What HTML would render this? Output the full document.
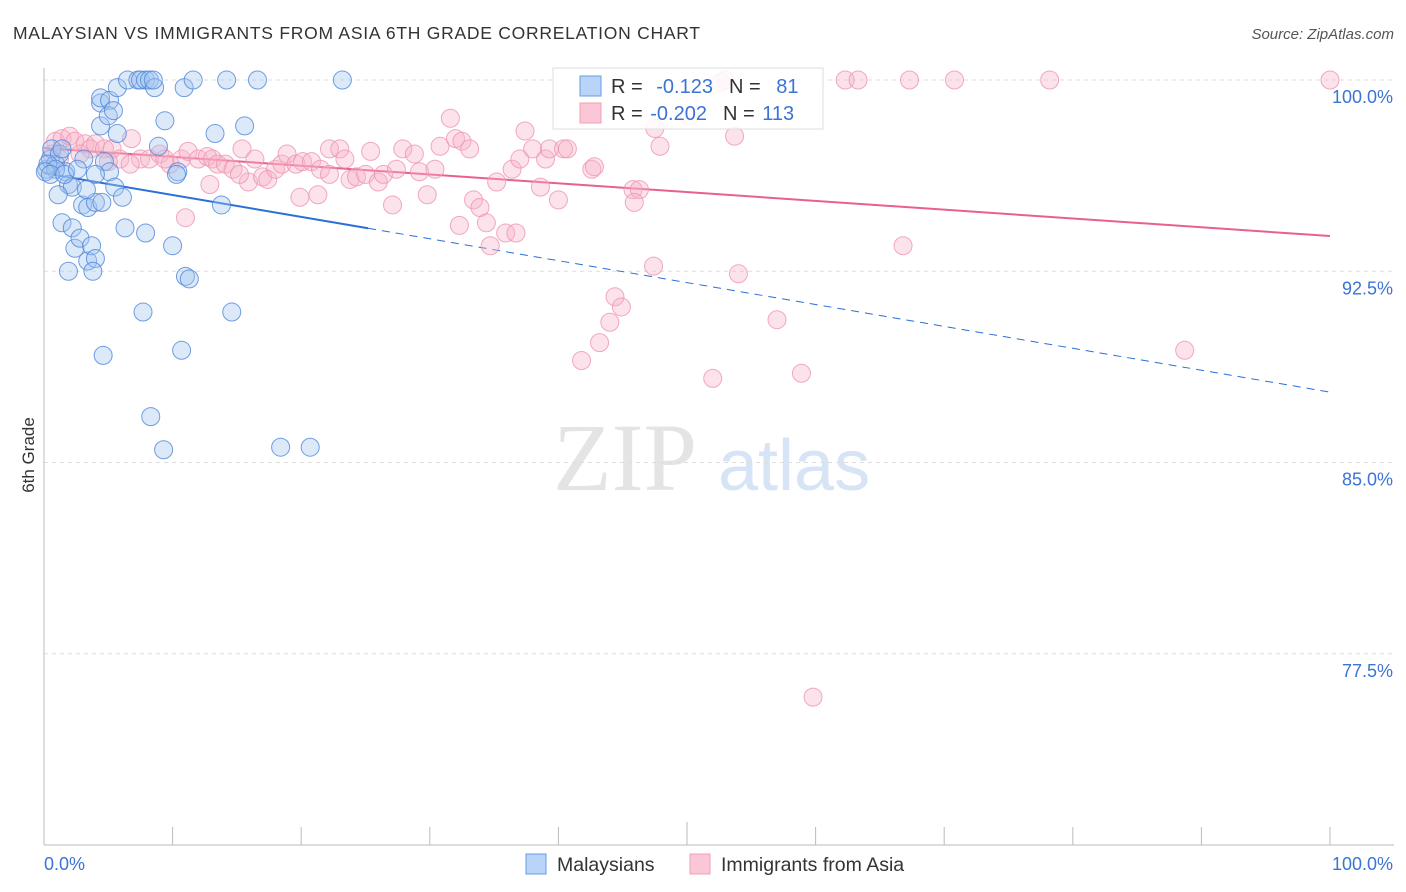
<!DOCTYPE html>
<html><head><meta charset="utf-8"><style>
body{margin:0;background:#fff;font-family:"Liberation Sans",sans-serif;}
#wrap{position:relative;width:1406px;height:892px;overflow:hidden;}
</style></head><body>
<div id="wrap">
<svg id="svg" width="1406" height="892" xmlns="http://www.w3.org/2000/svg">
<text x="13" y="39" font-size="17.5" fill="#333" textLength="687" lengthAdjust="spacing">MALAYSIAN VS IMMIGRANTS FROM ASIA 6TH GRADE CORRELATION CHART</text>
<text x="1394" y="39" font-size="15" fill="#555" font-style="italic" text-anchor="end">Source: ZipAtlas.com</text>
<text x="34" y="455" font-size="17" fill="#333" text-anchor="middle" transform="rotate(-90 34 455)">6th Grade</text>
<g>
<text x="553" y="490" font-size="96" font-family="Liberation Serif,serif" fill="#e4e4e4">ZIP</text>
<text x="718" y="490" font-size="72" fill="#d6e4f5">atlas</text>
</g>
<g id="grid"></g><g id="axes"></g><g id="trend"></g><g id="pts"></g>
<g>
<rect x="553" y="68" width="270" height="61" fill="#fff" fill-opacity="0.85" stroke="#ddd"/>
<rect x="580" y="76" width="21" height="20" fill="#b8d4f8" stroke="#6a9de0"/>
<rect x="580" y="103" width="21" height="20" fill="#fbc6d6" stroke="#f0a0b8"/>
<text x="611" y="93" font-size="20" fill="#333">R = <tspan fill="#3b74d4" dx="8">-0.123</tspan><tspan dx="16" fill="#333">N = </tspan><tspan fill="#3b74d4" dx="10">81</tspan></text>
<text x="611" y="120" font-size="20" fill="#333">R = <tspan fill="#3b74d4" dx="2">-0.202</tspan><tspan dx="16" fill="#333">N = </tspan><tspan fill="#3b74d4" dx="2">113</tspan></text>
</g>
<g>
<rect x="526" y="854" width="20" height="20" fill="#b8d4f8" stroke="#6a9de0"/>
<text x="557" y="871" font-size="19.5" fill="#333">Malaysians</text>
<rect x="690" y="854" width="20" height="20" fill="#fbc6d6" stroke="#f0a0b8"/>
<text x="721" y="871" font-size="19.5" fill="#333">Immigrants from Asia</text>
</g>
</svg>
</div>
<script>
const yTicks=[100,92.5,85,77.5];
const yTickLabels=["100.0%","92.5%","85.0%","77.5%"];
const xTickCount=10;
const blueX=[0.2,0.5,0.9,0.6,1.2,1.4,1.7,1.9,2.2,1.1,1.4,2.2,2.4,2.8,3.4,3.7,4.0,3.8,1.9,4.6,3.0,3.4,4.0,4.5,3.3,3.1,4.4,4.4,4.4,5.1,5.7,5.0,5.7,5.4,6.5,7.3,7.5,7.9,8.2,8.6,8.5,10.9,11.6,14.2,16.6,23.2,9.4,13.3,15.6,4.7,5.1,5.5,6.1,6.3,7.9,10.0,10.4,10.3,8.9,13.8,11.0,11.3,7.7,14.6,10.7,8.3,9.3,18.4,20.7,4.0,0.3,0.9,0.1,0.5,1.6,2.6];
const blueY=[96.5,96.9,96.7,97.3,97.1,97.3,96.4,95.9,95.8,95.5,94.4,94.2,93.4,93.8,92.9,93.5,93.0,92.5,92.5,89.2,95.1,95.0,95.2,95.2,95.7,96.9,98.2,99.1,99.3,99.2,99.7,98.6,97.9,98.8,100,100,100,100,100,99.7,100,99.7,100,100,100,100,98.4,97.9,98.2,96.8,96.4,95.8,95.4,94.2,94.0,93.5,96.4,96.3,97.4,95.1,92.3,92.2,90.9,90.9,89.4,86.8,85.5,85.6,85.6,96.3,96.7,96.5,96.4,96.3,96.3,96.5];
const pinkX=[0.9,1.4,2.0,2.4,3.2,4.0,3.6,4.7,5.3,5.9,6.8,7.5,8.2,9.0,9.8,9.4,10.7,11.2,12.0,12.7,13.1,13.5,14.1,14.7,15.4,15.9,16.4,17.0,17.4,18.0,18.5,18.9,19.6,20.1,20.8,21.5,21.3,22.2,23.0,23.4,23.8,24.3,25.0,25.4,26.0,26.4,27.1,27.4,27.9,28.8,29.2,29.8,30.4,30.8,31.6,32.0,32.5,33.1,33.4,33.9,34.4,34.7,35.2,35.9,36.7,36.4,37.0,37.4,38.0,38.6,39.0,39.3,40.0,40.4,40.7,42.6,42.8,45.8,46.3,47.9,47.5,41.8,43.2,44.0,44.4,44.9,45.9,47.4,52.0,54.0,57.0,58.9,59.8,66.8,88.7,53.0,52.6,62.3,63.3,67.3,70.8,78.2,100,50.2,53.7,0.6,1.2,2.8,5.0,6.7,11.0,12.9,15.2,19.9,22.2,32.3];
const pinkY=[97.6,97.7,97.8,97.6,97.5,97.5,97.3,97.3,97.3,96.9,97.7,96.9,96.9,97.1,96.7,96.9,96.9,97.2,96.9,97.0,96.9,96.7,96.7,96.5,97.3,96.0,96.9,96.2,96.1,96.5,96.7,97.1,96.7,96.8,96.8,96.5,95.5,97.3,97.3,96.9,96.1,96.2,96.3,97.2,96.0,96.3,95.1,96.5,97.3,97.1,96.4,95.5,96.5,97.4,98.5,97.7,97.6,97.3,95.3,95.0,94.4,93.5,96.0,94.0,94.0,96.5,96.9,98.0,97.3,95.8,96.9,97.3,95.3,97.3,97.3,96.5,96.6,95.7,95.7,97.4,98.1,89.0,89.7,90.5,91.5,91.1,95.2,92.7,88.3,92.4,90.6,88.5,75.8,93.5,89.4,100,99.9,100,100,100,100,100,100,98.6,97.8,97.1,96.9,97.1,96.8,96.7,94.6,95.9,96.3,95.4,96.3,94.3];
const blueTrend=[96.35,87.76];
const pinkTrend=[97.33,93.88];
const blueSolidEnd=25.2;

const NS="http://www.w3.org/2000/svg";
const X0=44,X1=1330,YTOP=80,YBOT=845;
const sx=v=>X0+(X1-X0)*v/100;
const sy=v=>YTOP+(100-v)*(YBOT-YTOP)/30;
function mk(tag,attrs,parent){const e=document.createElementNS(NS,tag);for(const k in attrs)e.setAttribute(k,attrs[k]);parent.appendChild(e);return e;}
const grid=document.getElementById('grid'),axes=document.getElementById('axes'),trend=document.getElementById('trend'),pts=document.getElementById('pts');
yTicks.forEach((t,i)=>{
 const l=mk('line',{x1:X0,x2:1394,y1:sy(t),y2:sy(t),stroke:'#ddd','stroke-dasharray':'4,4'},grid);
 
 
 const tx=mk('text',{x:1393,y:sy(t)+23,'font-size':18,fill:'#3b74d4','text-anchor':'end'},axes);
 tx.textContent=yTickLabels[i];
 
 
});
const ya=mk('line',{x1:X0,x2:X0,y1:68,y2:YBOT,stroke:'#bbb'},axes);


const xa=mk('line',{x1:X0,x2:1394,y1:YBOT,y2:YBOT,stroke:'#bbb'},axes);


for(let i=0;i<=xTickCount;i++){
 const v=i*100/xTickCount;
 const t=mk('line',{x1:sx(v),x2:sx(v),y1:(i==5?822:827),y2:YBOT,stroke:'#bbb'},axes);
 
 
}
const xl0=mk('text',{x:44,y:870,'font-size':18,fill:'#3b74d4'},axes);xl0.textContent='0.0%';


const xl1=mk('text',{x:1393,y:870,'font-size':18,fill:'#3b74d4','text-anchor':'end'},axes);xl1.textContent='100.0%';


function circles(xs,ys,fill,stroke,name){
 xs.forEach((x,i)=>{
  const c=mk('circle',{cx:sx(x),cy:sy(ys[i]),r:9,fill:fill,'fill-opacity':0.38,stroke:stroke,'stroke-opacity':0.8,'stroke-width':1},pts);
  
  
 });
}
circles(pinkX,pinkY,'#f8b4c8','#ee95b2','immigrants-point');
circles(blueX,blueY,'#a4c6f0','#4f86db','malaysian-point');
const by=v=>blueTrend[0]+(blueTrend[1]-blueTrend[0])*v/100;
const b1=mk('line',{x1:sx(0),y1:sy(by(0)),x2:sx(blueSolidEnd),y2:sy(by(blueSolidEnd)),stroke:'#2a6fd6','stroke-width':2},trend);


const b2=mk('line',{x1:sx(blueSolidEnd),y1:sy(by(blueSolidEnd)),x2:sx(100),y2:sy(by(100)),stroke:'#2a6fd6','stroke-width':1,'stroke-dasharray':'8,6'},trend);


const p1=mk('line',{x1:sx(0),y1:sy(pinkTrend[0]),x2:sx(100),y2:sy(pinkTrend[1]),stroke:'#e8608c','stroke-width':2},trend);


</script>
</body></html>
